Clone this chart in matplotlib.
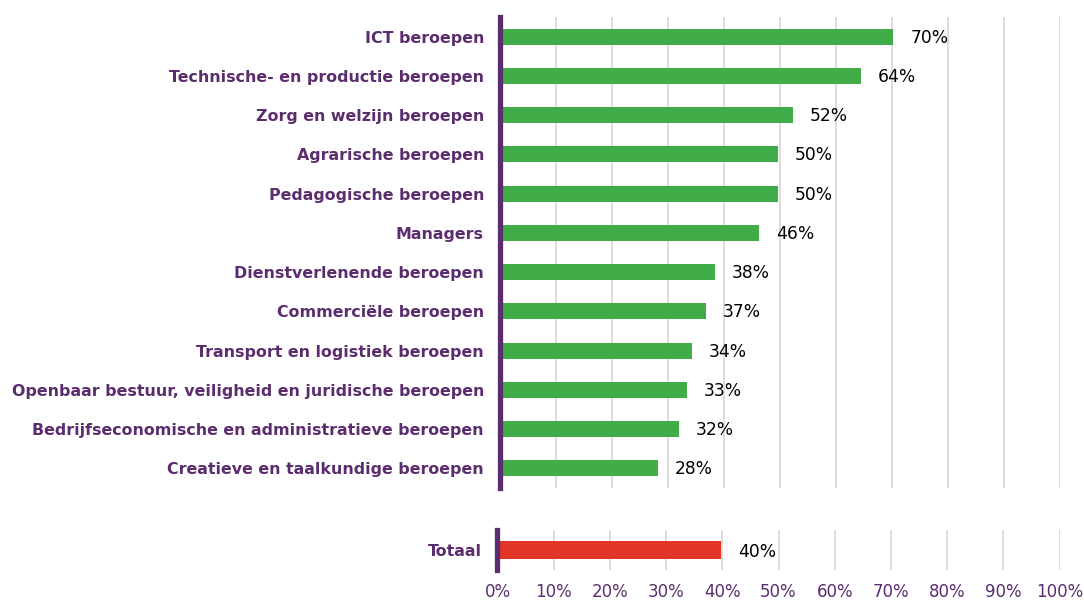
import matplotlib
matplotlib.use("Agg")
import matplotlib.pyplot as plt

categories = [
    "ICT beroepen",
    "Technische- en productie beroepen",
    "Zorg en welzijn beroepen",
    "Agrarische beroepen",
    "Pedagogische beroepen",
    "Managers",
    "Dienstverlenende beroepen",
    "Commerciële beroepen",
    "Transport en logistiek beroepen",
    "Openbaar bestuur, veiligheid en juridische beroepen",
    "Bedrijfseconomische en administratieve beroepen",
    "Creatieve en taalkundige beroepen",
]
values = [70.3, 64.5, 52.4, 49.7, 49.7, 46.3, 38.5, 36.8, 34.4, 33.5, 32.0, 28.3]
value_labels = ["70%", "64%", "52%", "50%", "50%", "46%", "38%", "37%", "34%", "33%", "32%", "28%"]
total_label = "Totaal"
total_value = 39.8
total_text = "40%"
ticks = [0, 10, 20, 30, 40, 50, 60, 70, 80, 90, 100]
tick_labels = [f"{t}%" for t in ticks]

GREEN = "#41ad49"
RED = "#e03527"
PURPLE = "#5b2d6e"
GRID = "#d2d2d2"

W, H = 1084, 601
fig = plt.figure(figsize=(W / 100, H / 100), dpi=100)

def ax_rect(x0, y0, x1, y1):
    return [x0 / W, 1 - y1 / H, (x1 - x0) / W, (y1 - y0) / H]

ax1 = fig.add_axes(ax_rect(499.5, 17, 1059.5, 488))
ax2 = fig.add_axes(ax_rect(497.5, 530, 1059.5, 570))

def style(ax, show_x):
    ax.set_xlim(0, 100)
    ax.set_xticks(ticks)
    ax.grid(axis="x", color=GRID, linewidth=1.1)
    ax.set_axisbelow(True)
    for s in ["top", "right", "bottom"]:
        ax.spines[s].set_visible(False)
    ax.spines["left"].set_color(PURPLE)
    ax.spines["left"].set_linewidth(3.8)
    ax.spines["left"].set_zorder(5)
    ax.tick_params(axis="y", length=0, pad=11.2)
    ax.tick_params(axis="x", length=0, pad=9.5)
    if show_x:
        ax.set_xticklabels(tick_labels, color=PURPLE, fontsize=12)
    else:
        ax.set_xticklabels([])
    for lbl in ax.get_yticklabels():
        lbl.set_color(PURPLE)
        lbl.set_fontweight("bold")
        lbl.set_fontsize(11.4)

y = list(range(len(categories)))
ax1.barh(y, values, height=0.41, color=GREEN, zorder=3)
ax1.set_yticks(y)
ax1.set_yticklabels(categories)
ax1.set_ylim(len(categories) - 0.5, -0.5)
style(ax1, False)
for yi, v, t in zip(y, values, value_labels):
    ax1.annotate(t, (v, yi), xytext=(17, -1), textcoords="offset pixels",
                 va="center", ha="left", fontsize=12.3, color="black")

ax2.barh([0], [total_value], height=0.46, color=RED, zorder=3)
ax2.set_yticks([0])
ax2.set_yticklabels([total_label])
ax2.set_ylim(0.5, -0.5)
style(ax2, True)
ax2.annotate(total_text, (total_value, 0), xytext=(17, -2), textcoords="offset pixels",
             va="center", ha="left", fontsize=12.3, color="black")

fig.savefig("out.png", dpi=100)
